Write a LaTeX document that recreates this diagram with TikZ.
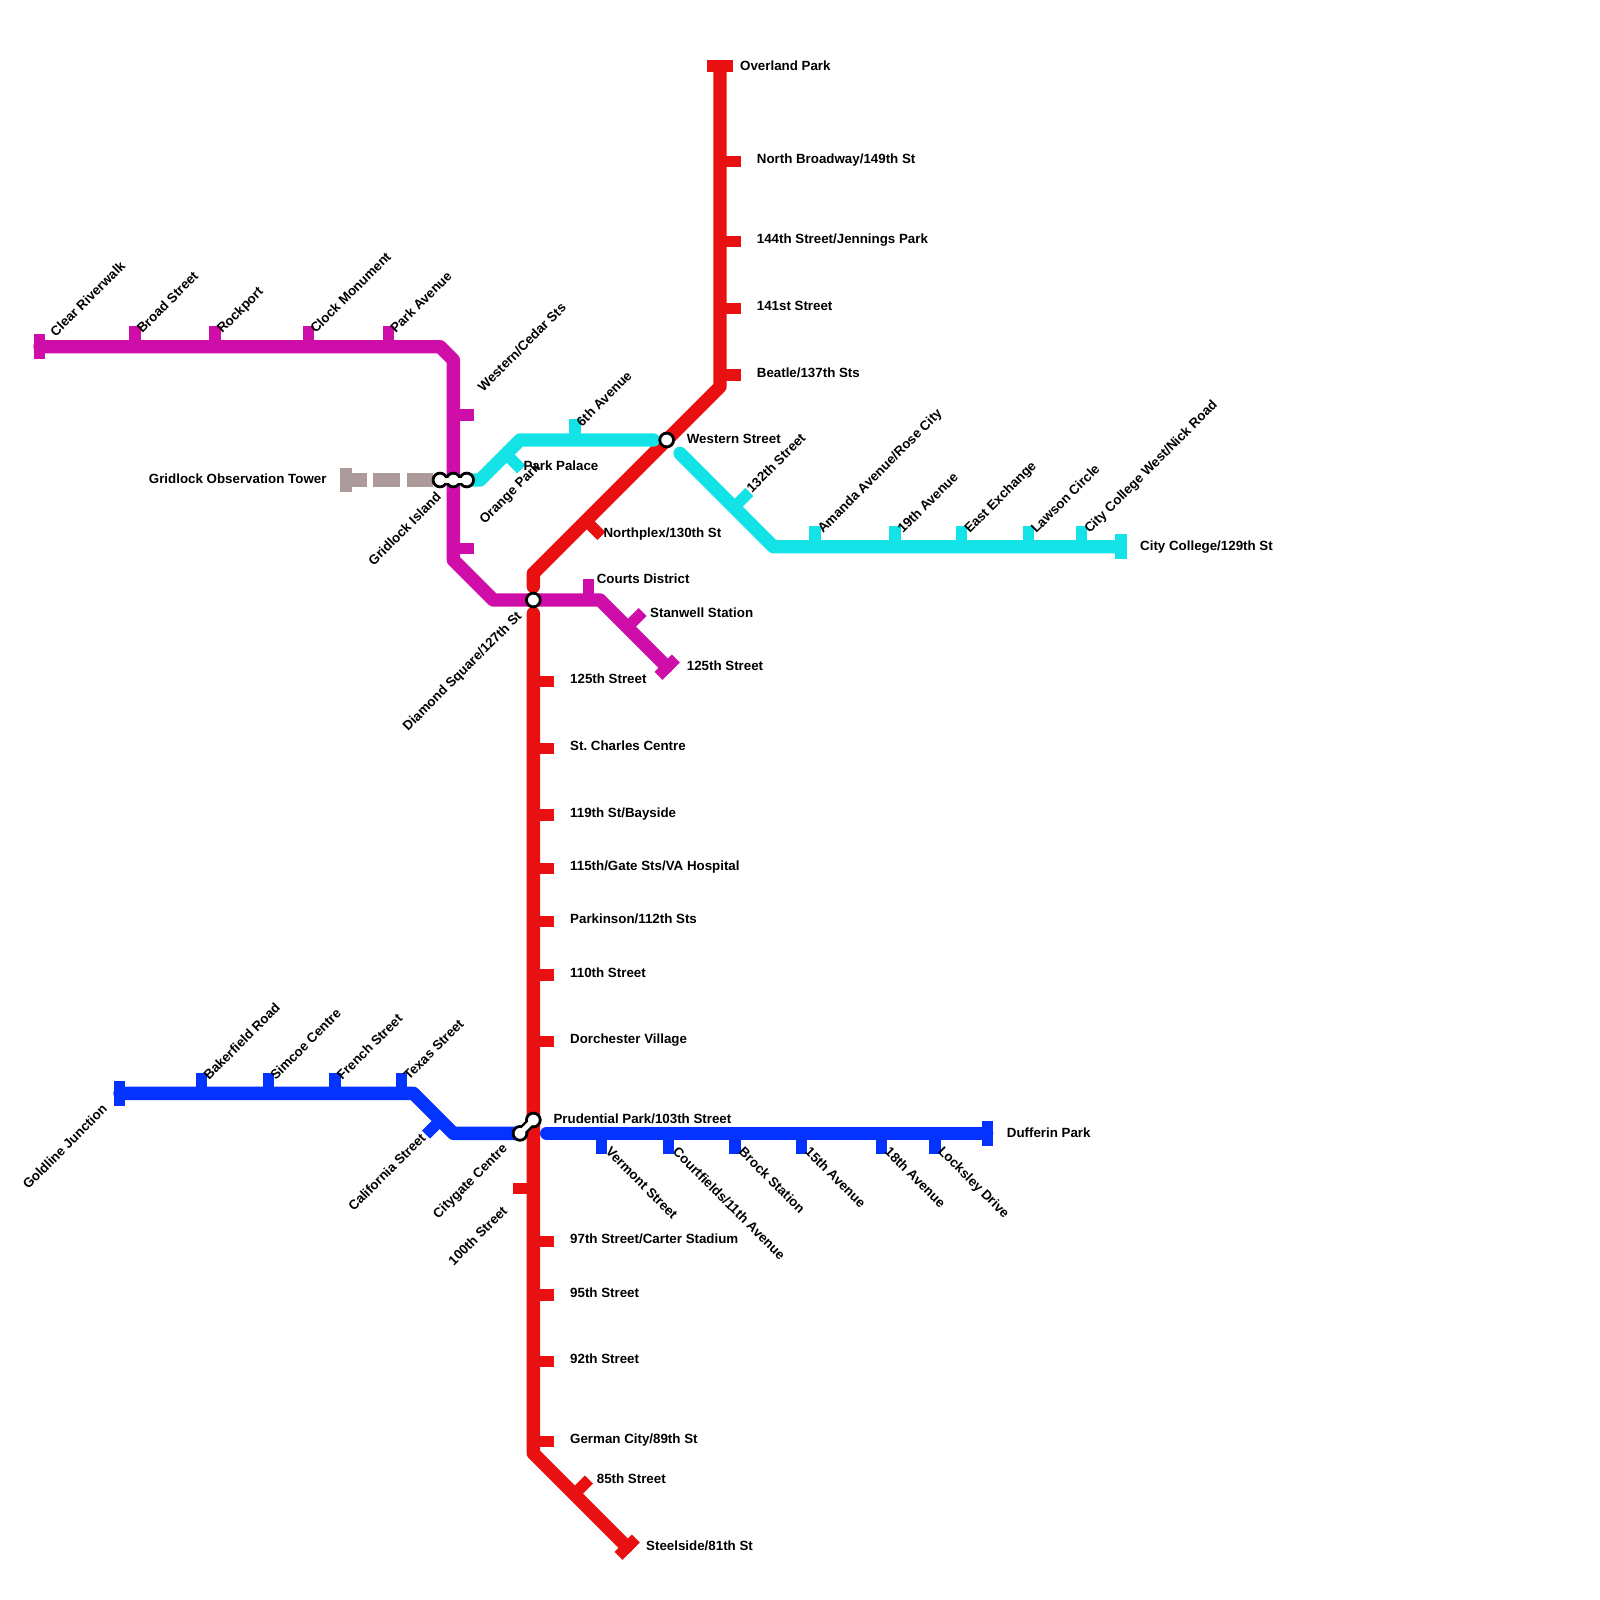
\documentclass[tikz,border=0pt]{standalone}
\usepackage{fontspec}
\setmainfont{Liberation Sans}
\usepackage{xcolor}
\usetikzlibrary{positioning,calc}
\definecolor{linered}{HTML}{E81010}
\definecolor{linemagenta}{HTML}{CF0DA8}
\definecolor{linecyan}{HTML}{13E2E6}
\definecolor{lineblue}{HTML}{0433FF}
\definecolor{linegrey}{HTML}{AD9A9A}
\tikzset{
  metroline/.style={line width=13.33pt,line cap=round,line join=round},
  greyline/.style={line width=13.33pt,linegrey,dash pattern=on 26.67pt off 6.67pt},
  stopmark/.style={line width=11.4pt},
  stoplabel/.style={font=\fontsize{13.33}{15}\selectfont\bfseries,inner sep=0pt,text height=9.6pt,text depth=0pt,anchor=west},
  labelup/.style={stoplabel,rotate=45},
  labelback/.style={stoplabel,rotate=45,anchor=east},
  labeldown/.style={stoplabel,rotate=-45},
  changedot/.style={circle,draw=black,fill=white,line width=2.8pt,inner sep=0pt,minimum size=13.8pt},
  changelinkouter/.style={line width=10pt,black},
  changelinkinner/.style={line width=5pt,white}
}
\begin{document}
\begin{tikzpicture}[x=13.333pt,y=-13.333pt]
  \useasboundingbox (0,0) rectangle (120,120);
  % red line
  \draw[metroline,linered] (54,5) -- (54,29) -- (40,43) -- (40,44);
  \draw[metroline,linered] (40,46) -- (40,109) -- (47,116);
  \draw[stopmark,linered] (53.06,4.94) -- (54.94,4.94);
  \foreach \y in {12,18,23,28} \draw[stopmark,linered] (54,\y+.125) -- (55.55,\y+.125);
  \foreach \y in {51,56,61,65,69,73,78,93,97,102,108} \draw[stopmark,linered] (40,\y+.125) -- (41.55,\y+.125);
  \draw[stopmark,linered] (40,89.125) -- (38.45,89.125);
  \draw[stopmark,linered] (44,39.1) -- (45.1,40.2);
  \draw[stopmark,linered] (43.07,112.07) -- (44.17,110.97);
  \draw[stopmark,linered] (46.39,116.69) -- (47.69,115.39);
  % grey branch
  \draw[greyline] (25.5,36) -- (33,36);
  \draw[stopmark,linegrey] (25.94,35.07) -- (25.94,36.93);
  % magenta line
  \draw[metroline,linemagenta] (3,26) -- (33,26) -- (34,27) -- (34,42) -- (37,45) -- (45,45) -- (50,50);
  \draw[stopmark,linemagenta] (2.94,25.07) -- (2.94,26.93);
  \foreach \x in {10,16,23,29} \draw[stopmark,linemagenta] (\x+.125,26) -- (\x+.125,24.45);
  \foreach \y in {31,41} \draw[stopmark,linemagenta] (34,\y+.125) -- (35.55,\y+.125);
  \draw[stopmark,linemagenta] (44.125,45) -- (44.125,43.45);
  \draw[stopmark,linemagenta] (47.1,47) -- (48.2,45.9);
  \draw[stopmark,linemagenta] (49.39,50.69) -- (50.69,49.39);
  % cyan line
  \draw[metroline,linecyan] (35,36) -- (36,36) -- (39,33) -- (49,33);
  \draw[metroline,linecyan] (51,34) -- (58,41) -- (84,41);
  \draw[stopmark,linecyan] (84.06,40.07) -- (84.06,41.93);
  \draw[stopmark,linecyan] (43.125,33) -- (43.125,31.45);
  \draw[stopmark,linecyan] (38,34.1) -- (39.1,35.2);
  \draw[stopmark,linecyan] (55.1,38) -- (56.2,36.9);
  \foreach \x in {61,67,72,77,81} \draw[stopmark,linecyan] (\x+.125,41) -- (\x+.125,39.45);
  % blue line
  \draw[metroline,lineblue] (9,82) -- (31,82) -- (34,85) -- (39,85);
  \draw[metroline,lineblue] (41,85) -- (74,85);
  \draw[stopmark,lineblue] (8.94,81.07) -- (8.94,82.93);
  \draw[stopmark,lineblue] (74.06,84.07) -- (74.06,85.93);
  \foreach \x in {15,20,25,30} \draw[stopmark,lineblue] (\x+.125,82) -- (\x+.125,80.45);
  \foreach \x in {45,50,55,60,66,70} \draw[stopmark,lineblue] (\x+.125,85) -- (\x+.125,86.55);
  \draw[stopmark,lineblue] (33.05,84) -- (31.95,85.1);
  % interchanges
  \coordinate (gridlockpt) at (33,36);
  \coordinate (orangept) at (35,36);
  \coordinate (citygatept) at (39,85);
  \coordinate (prudentialpt) at (40,84);
  \draw[changelinkouter] (gridlockpt) -- (orangept);
  \draw[changelinkouter] (citygatept) -- (prudentialpt);
  \node[changedot] (gridlock) at (gridlockpt) {};
  \node[changedot] (observation) at (34,36) {};
  \node[changedot] (orange) at (orangept) {};
  \draw[changelinkinner] (gridlock.center) -- (orange.center);
  \node[changedot] (western) at (50,33) {};
  \node[changedot] (diamond) at (40,45) {};
  \node[changedot] (citygate) at (citygatept) {};
  \node[changedot] (prudential) at (prudentialpt) {};
  \draw[changelinkinner] (citygate.center) -- (prudential.center);
  % red labels
  \node[stoplabel] (overlandlabel) at (55.5,4.93) {Overland Park};
  \node[stoplabel] (broadwaylabel) at (56.75,11.93) {North Broadway/149th St};
  \node[stoplabel] (jenningslabel) at (56.75,17.93) {144th Street/Jennings Park};
  \node[stoplabel] (onefortyonelabel) at (56.75,22.93) {141st Street};
  \node[stoplabel] (beatlelabel) at (56.75,27.93) {Beatle/137th Sts};
  \node[stoplabel] (westernlabel) at (51.5,32.93) {Western Street};
  \node[stoplabel] (northplexlabel) at (45.25,39.93) {Northplex/130th St};
  \node[stoplabel] (redoneeightlabel) at (42.75,50.93) {125th Street};
  \node[stoplabel] (charleslabel) at (42.75,55.93) {St.\ Charles Centre};
  \node[stoplabel] (baysidelabel) at (42.75,60.93) {119th St/Bayside};
  \node[stoplabel] (hospitallabel) at (42.75,64.93) {115th/Gate Sts/VA Hospital};
  \node[stoplabel] (parkinsonlabel) at (42.75,68.93) {Parkinson/112th Sts};
  \node[stoplabel] (onetenlabel) at (42.75,72.93) {110th Street};
  \node[stoplabel] (dorchesterlabel) at (42.75,77.93) {Dorchester Village};
  \node[stoplabel] (prudentiallabel) at (41.5,83.93) {Prudential Park/103th Street};
  \node[stoplabel] (carterlabel) at (42.75,92.93) {97th Street/Carter Stadium};
  \node[stoplabel] (ninetyfivelabel) at (42.75,96.93) {95th Street};
  \node[stoplabel] (ninetytwolabel) at (42.75,101.93) {92th Street};
  \node[stoplabel] (germanlabel) at (42.75,107.93) {German City/89th St};
  \node[stoplabel] (eightyfivelabel) at (44.75,110.93) {85th Street};
  \node[stoplabel] (steelsidelabel) at (48.45,115.93) {Steelside/81th St};
  \node[labelback] (diamondlabel) at (38.93,46.03) {Diamond Square/127th St};
  \node[labelback] (hundredlabel) at (37.85,90.65) {100th Street};
  % magenta labels
  \node[labelup] (clearlabel) at (3.92,25.05) {Clear Riverwalk};
  \node[labelup] (broadlabel) at (10.42,24.8) {Broad Street};
  \node[labelup] (rockportlabel) at (16.42,24.8) {Rockport};
  \node[labelup] (clocklabel) at (23.42,24.8) {Clock Monument};
  \node[labelup] (parkavelabel) at (29.42,24.8) {Park Avenue};
  \node[labelup] (cedarlabel) at (35.98,29.18) {Western/Cedar Sts};
  \node[stoplabel] (courtslabel) at (44.75,43.43) {Courts District};
  \node[stoplabel] (stanwelllabel) at (48.75,45.93) {Stanwell Station};
  \node[stoplabel] (magentaendlabel) at (51.5,49.93) {125th Street};
  \node[labelback] (gridlocklabel) at (32.9,37.1) {Gridlock Island};
  \node[stoplabel,anchor=east] (towerlabel) at (24.5,35.93) {Gridlock Observation Tower};
  % cyan labels
  \node[labelup] (orangelabel) at (36.1,39.1) {Orange Park};
  \node[stoplabel] (palacelabel) at (39.25,34.93) {Park Palace};
  \node[labelup] (sixthlabel) at (43.4,31.8) {6th Avenue};
  \node[labelup] (onethirtytwolabel) at (56.15,36.75) {132th Street};
  \node[labelup] (amandalabel) at (61.47,39.8) {Amanda Avenue/Rose City};
  \node[labelup] (nineteenlabel) at (67.47,39.8) {19th Avenue};
  \node[labelup] (eastlabel) at (72.47,39.8) {East Exchange};
  \node[labelup] (lawsonlabel) at (77.47,39.8) {Lawson Circle};
  \node[labelup] (nickroadlabel) at (81.47,39.8) {City College West/Nick Road};
  \node[stoplabel] (collegelabel) at (85.5,40.93) {City College/129th St};
  % blue labels
  \node[labelback] (goldlinelabel) at (7.85,83) {Goldline Junction};
  \node[labelup] (bakerfieldlabel) at (15.42,80.8) {Bakerfield Road};
  \node[labelup] (simcoelabel) at (20.42,80.8) {Simcoe Centre};
  \node[labelup] (frenchlabel) at (25.42,80.8) {French Street};
  \node[labelup] (texaslabel) at (30.42,80.8) {Texas Street};
  \node[labelback] (californialabel) at (31.75,85.15) {California Street};
  \node[labelback] (citygatelabel) at (37.85,85.95) {Citygate Centre};
  \node[labeldown] (vermontlabel) at (45.62,86.2) {Vermont Street};
  \node[labeldown] (courtfieldslabel) at (50.65,86.2) {Courtfields/11th Avenue};
  \node[labeldown] (brocklabel) at (55.6,86.2) {Brock Station};
  \node[labeldown] (fifteenlabel) at (60.58,86.2) {15th Avenue};
  \node[labeldown] (eighteenlabel) at (66.55,86.2) {18th Avenue};
  \node[labeldown] (locksleylabel) at (70.55,86.15) {Locksley Drive};
  \node[stoplabel] (dufferinlabel) at (75.5,84.93) {Dufferin Park};
\end{tikzpicture}
\end{document}
